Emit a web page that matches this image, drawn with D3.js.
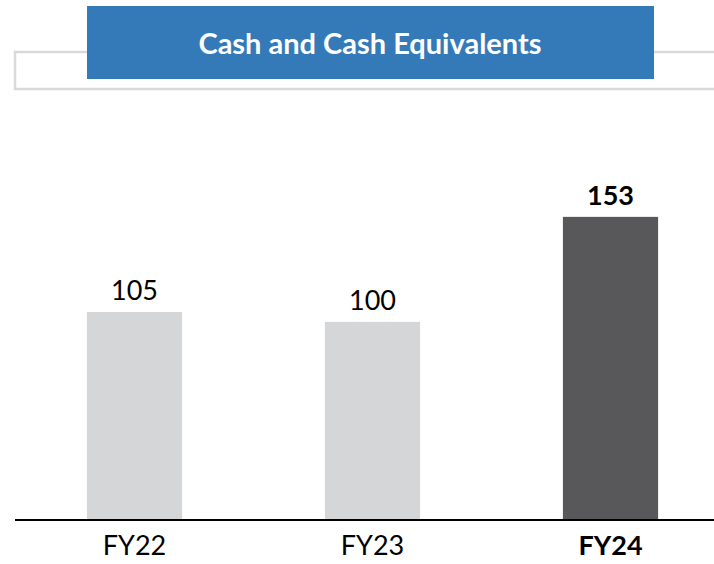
<!DOCTYPE html>
<html><head><meta charset="utf-8">
<script src="https://cdn.jsdelivr.net/npm/d3@7"></script>
<style>html,body{margin:0;padding:0;background:#fff}svg{display:block}</style>
</head><body>
<svg id="chart" width="714" height="564"></svg>
<script>
const title = "Cash and Cash Equivalents";
const categories = ["FY22", "FY23", "FY24"];
const values = [105, 100, 153];
const highlight = [false, false, true];

const svg = d3.select("#chart");
const W = 714;
const font = "Lato, 'Open Sans', sans-serif";

// header: grey outline strip + blue title box
svg.append("rect").attr("x", 15).attr("y", 52).attr("width", 720).attr("height", 37)
  .attr("fill", "#fff").attr("stroke", "#d9d9d9").attr("stroke-width", 2.5);
svg.append("rect").attr("x", 87).attr("y", 6).attr("width", 567).attr("height", 73)
  .attr("fill", "#357ab8");
svg.append("text").attr("x", 370).attr("y", 54).attr("text-anchor", "middle")
  .attr("fill", "#fff").attr("font-family", font).attr("font-weight", "bold")
  .attr("font-size", 29).text(title);

const x = d3.scaleBand().domain(categories).range([15.5, 729.5])
  .paddingInner(0.6).paddingOuter(0.3);
const y = d3.scaleLinear().domain([0, 160]).range([520, 203]);

const data = categories.map((c, i) => ({c, v: values[i], h: highlight[i]}));

svg.selectAll("rect.bar").data(data).enter().append("rect").attr("class", "bar")
  .attr("x", d => x(d.c)).attr("width", x.bandwidth())
  .attr("y", d => y(d.v)).attr("height", d => y(0) - y(d.v))
  .attr("fill", d => d.h ? "#58585a" : "#d5d6d8");

svg.selectAll("text.val").data(data).enter().append("text").attr("class", "val")
  .attr("x", d => x(d.c) + x.bandwidth() / 2).attr("y", d => y(d.v) - 12)
  .attr("text-anchor", "middle").attr("font-family", font)
  .attr("font-weight", d => d.h ? "bold" : "normal")
  .attr("font-size", 27).attr("fill", "#000").text(d => d.v);

// axis
const axis = svg.append("g").attr("transform", `translate(0,${y(0)})`)
  .call(d3.axisBottom(x).tickSize(0).tickPadding(16));
axis.select(".domain").remove();
axis.append("line").attr("x1", 15).attr("x2", W).attr("y1", 0).attr("y2", 0)
  .attr("stroke", "#000").attr("stroke-width", 2);
axis.selectAll(".tick text").attr("font-family", font).attr("font-size", 27)
  .attr("fill", "#000")
  .attr("font-weight", (d, i) => highlight[i] ? "bold" : "normal");
</script>
</body></html>
